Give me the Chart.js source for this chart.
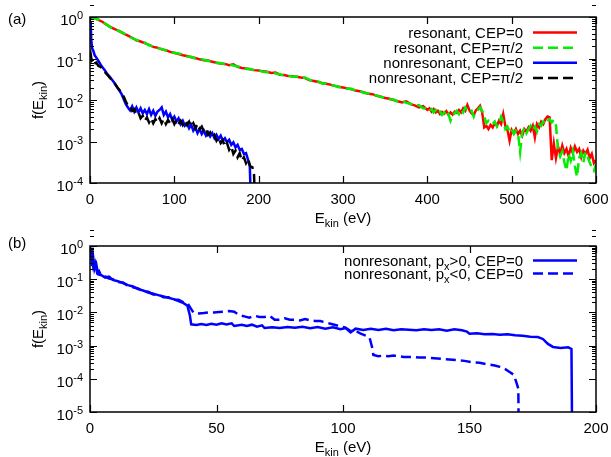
<!DOCTYPE html>
<html>
<head>
<meta charset="utf-8">
<script src="https://cdn.jsdelivr.net/npm/chart.js@4"></script>
<style>
  body { margin: 0; background: #fff; }
  .panel { position: absolute; left: 0; width: 611px; height: 228px; }
  #wrapA { top: 0; }
  #wrapB { top: 229px; }
</style>
</head>
<body>
<div class="panel" id="wrapA"><canvas id="chartA" width="611" height="228"></canvas></div>
<div class="panel" id="wrapB"><canvas id="chartB" width="611" height="228"></canvas></div>
<script>
// values as log10 f(E_kin)

// panel (a), resonant
const resE = [0,5,10,15,20,25,30,35,40,45,50,55,60,65,70,75,80,85,90,95,
  100,105,110,115,120,125,130,135,140,145,150,155,160,165,170,175,180,185,190,195,
  200,205,210,215,220,225,230,235,240,245,250,255,260,265,270,275,280,285,290,295,
  300,305,310,315,320,325,330,335,340,345,350,355,360,365,370,375,380,385,390,395,400,
  402.5,405,407.5,410,412.5,415,417.5,420,422.5,425,427.5,430,432.5,435,437.5,440,442.5,445,447.5,450,
  452.5,455,457.5,460,462.5,465,467.5,470,472.5,475,477.5,480,482.5,485,487.5,490,492.5,495,497.5,500,
  502.5,505,507.5,510,512.5,515,517.5,520,522.5,525,527.5,530,532.5,535,537.5,540,542.5,545,547.5,550,
  552.5,555,557.5,560,562.5,565,567.5,570,572.5,575,577.5,580,582.5,585,587.5,590,592.5,595,597.5,600];
const resCep0 = [-0.01,-0.02,-0.07,-0.12,-0.19,-0.25,-0.30,-0.34,-0.40,-0.45,
  -0.50,-0.56,-0.59,-0.63,-0.67,-0.72,-0.74,-0.78,-0.80,-0.84,
  -0.86,-0.89,-0.92,-0.94,-0.97,-0.99,-1.02,-1.04,-1.05,-1.08,
  -1.10,-1.12,-1.13,-1.16,-1.14,-1.20,-1.23,-1.24,-1.26,-1.28,
  -1.29,-1.31,-1.32,-1.35,-1.34,-1.39,-1.40,-1.42,-1.43,-1.44,
  -1.46,-1.47,-1.52,-1.54,-1.56,-1.59,-1.61,-1.63,-1.66,-1.68,
  -1.70,-1.72,-1.74,-1.77,-1.79,-1.82,-1.85,-1.86,-1.90,-1.92,
  -1.95,-1.97,-2.00,-2.03,-2.06,-2.03,-2.10,-2.13,-2.18,-2.15,-2.24,
  -2.20,-2.28,-2.22,-2.30,-2.26,-2.34,-2.29,-2.33,-2.27,-2.36,
  -2.30,-2.35,-2.28,-2.31,-2.24,-2.30,-2.20,-2.26,-2.12,-2.25,
  -2.32,-2.36,-2.25,-2.20,-2.14,-2.30,-2.66,-2.62,-2.70,-2.60,
  -2.66,-2.55,-2.62,-2.50,-2.58,-2.34,-2.62,-2.72,-2.98,-2.72,
  -2.80,-2.70,-2.82,-2.74,-2.86,-2.70,-2.76,-2.66,-2.74,-2.62,
  -2.90,-2.58,-2.66,-2.52,-2.58,-2.46,-2.40,-2.42,-3.45,-3.05,
  -3.40,-3.12,-3.30,-3.10,-3.28,-3.18,-3.35,-3.15,-3.28,-3.12,
  -3.25,-3.18,-3.38,-3.22,-3.30,-3.20,-3.40,-3.30,-3.52,-3.45];
const resCepPi2 = [0.00,-0.03,-0.06,-0.13,-0.18,-0.26,-0.29,-0.35,-0.39,-0.46,
  -0.51,-0.55,-0.60,-0.62,-0.68,-0.71,-0.75,-0.77,-0.81,-0.83,
  -0.87,-0.88,-0.91,-0.95,-0.96,-1.00,-1.01,-1.03,-1.06,-1.07,
  -1.11,-1.11,-1.14,-1.15,-1.17,-1.19,-1.22,-1.25,-1.25,-1.29,
  -1.28,-1.32,-1.33,-1.34,-1.36,-1.38,-1.41,-1.41,-1.44,-1.43,
  -1.47,-1.46,-1.51,-1.55,-1.55,-1.60,-1.60,-1.64,-1.65,-1.69,
  -1.69,-1.73,-1.73,-1.78,-1.78,-1.83,-1.84,-1.87,-1.89,-1.93,
  -1.94,-1.98,-1.99,-2.04,-2.02,-2.07,-2.09,-2.14,-2.12,-2.20,-2.21,
  -2.26,-2.22,-2.30,-2.24,-2.32,-2.28,-2.36,-2.30,-2.40,-2.34,
  -2.50,-2.36,-2.32,-2.26,-2.34,-2.24,-2.30,-2.18,-2.24,-2.30,
  -2.26,-2.40,-2.28,-2.24,-2.18,-2.26,-2.40,-2.56,-2.50,-2.54,
  -2.58,-2.52,-2.64,-2.56,-2.40,-2.52,-2.70,-2.64,-2.76,-2.70,
  -2.82,-2.74,-2.80,-3.25,-2.78,-2.68,-2.80,-2.70,-2.62,-2.72,
  -2.64,-2.76,-2.58,-2.62,-2.52,-2.58,-2.50,-2.46,-2.54,-2.48,
  -2.60,-3.20,-3.36,-3.24,-3.50,-3.70,-3.30,-3.46,-3.24,-3.60,
  -3.85,-3.40,-3.28,-3.50,-3.26,-3.36,-3.50,-3.62,-3.70,-3.55];

// panel (a), nonresonant
const nonE0 = [0.3,0.8,1.5,2.5,4,5.5,7.5,
  10,12.5,15,17.5,20,22.5,25,27.5,30,32.5,35,37.5,40,42.5,45,47.5,50,52.5,55,57.5,
  60,62.5,65,67.5,70,72.5,75,77.5,80,82.5,85,87.5,90,92.5,95,97.5,100,102.5,105,107.5,
  110,112.5,115,117.5,120,122.5,125,127.5,130,132.5,135,137.5,140,142.5,145,147.5,150,152.5,155,157.5,
  160,162.5,165,167.5,170,172.5,175,177.5,180,182.5,185,187.5,189.5,191.5];
const nonCep0 = [-0.62,-0.11,-0.55,-0.75,-0.82,-0.92,-0.98,
  -1.06,-1.14,-1.22,-1.28,-1.36,-1.42,-1.48,-1.55,-1.62,-1.70,
  -1.78,-1.86,-1.98,-2.10,-2.18,-2.25,-2.15,-2.28,-2.18,-2.30,
  -2.20,-2.32,-2.24,-2.34,-2.22,-2.36,-2.26,-2.38,-2.28,-2.24,
  -2.18,-2.36,-2.28,-2.42,-2.34,-2.48,-2.40,-2.52,-2.44,-2.58,
  -2.50,-2.62,-2.56,-2.68,-2.60,-2.74,-2.66,-2.80,-2.70,-2.82,
  -2.74,-2.86,-2.78,-2.88,-2.80,-2.92,-2.84,-2.94,-2.86,-2.98,
  -2.92,-3.02,-2.96,-3.08,-3.02,-3.14,-3.08,-3.20,-3.18,-3.30,
  -3.28,-3.45,-3.60,-5];
const nonCepE = [0.3,1,2,3.5,5,7.5,
  10,12.5,15,17.5,20,22.5,25,27.5,30,32.5,35,37.5,40,42.5,45,47.5,50,52.5,55,57.5,
  60,62.5,65,67.5,70,72.5,75,77.5,80,82.5,85,87.5,90,92.5,95,97.5,100,102.5,105,107.5,
  110,112.5,115,117.5,120,122.5,125,127.5,130,132.5,135,137.5,140,142.5,145,147.5,150,152.5,155,157.5,
  160,162.5,165,167.5,170,172.5,175,177.5,180,182.5,185,187.5,190,192.5,194.5,196.5];
const nonCepPi2 = [-1.00,-0.92,-1.05,-1.02,-1.12,-1.10,
  -1.18,-1.20,-1.26,-1.32,-1.38,-1.44,-1.50,-1.56,-1.62,-1.70,
  -1.76,-1.84,-1.92,-2.04,-2.14,-2.16,-2.26,-2.22,-2.34,-2.30,
  -2.44,-2.38,-2.50,-2.42,-2.54,-2.44,-2.56,-2.46,-2.54,-2.44,
  -2.56,-2.46,-2.58,-2.48,-2.56,-2.46,-2.58,-2.48,-2.58,-2.50,
  -2.60,-2.50,-2.60,-2.52,-2.64,-2.56,-2.68,-2.58,-2.70,-2.64,
  -2.76,-2.70,-2.84,-2.78,-2.90,-2.84,-2.98,-2.90,-3.04,-2.98,
  -3.12,-3.04,-3.20,-3.12,-3.30,-3.22,-3.38,-3.28,-3.46,-3.38,
  -3.52,-3.42,-3.60,-3.62,-3.80,-5];

// panel (b), nonresonant CEP=0
const posE = [0.3,0.8,1.2,1.8,2.5,3.2,4.5,6,7.5,9,11,13,15,17,19,21,23,25,27,29,
  31,33,35,37,38.5,39.5,40,42,44,46,48,50,52,54,56,57,60,62,64,66,
  68,69,72,75,78,81,84,87,90,93,96,99,101,103,105,108,111,114,117,120,
  123,126,129,132,135,138,141,144,147,149,150,153,156,159,162,165,168,171,174,177,
  179,181,183,186,189,190.3,190.6];
const posPx = [-0.05,-0.60,-0.30,-0.70,-0.55,-0.85,-0.88,-0.95,-0.92,-1.02,
  -1.06,-1.12,-1.18,-1.22,-1.30,-1.34,-1.40,-1.44,-1.48,-1.52,
  -1.56,-1.60,-1.66,-1.72,-1.80,-2.10,-2.36,-2.38,-2.35,-2.38,
  -2.34,-2.37,-2.33,-2.36,-2.33,-2.41,-2.37,-2.41,-2.37,-2.43,
  -2.39,-2.47,-2.45,-2.47,-2.44,-2.46,-2.43,-2.48,-2.44,-2.49,
  -2.45,-2.51,-2.47,-2.60,-2.49,-2.53,-2.49,-2.53,-2.49,-2.54,
  -2.51,-2.52,-2.54,-2.51,-2.53,-2.51,-2.55,-2.51,-2.54,-2.58,
  -2.64,-2.63,-2.66,-2.65,-2.67,-2.66,-2.69,-2.70,-2.73,-2.74,
  -2.80,-2.95,-3.04,-3.07,-3.05,-3.10,-6];
const negE = [0.3,0.8,1.3,2,2.8,3.5,4.5,6,7.5,9,11,13,15,17,19,21,23,25,27,29,
  31,33,35,37,38.5,40,41,43,45,47,49,51,53,55,57,59,61,63,65,67,
  69,71,73,75,77,79,81,83,85,87,89,91,93,95,97,99,101,103,105,107,
  109,110.5,111.5,112,114,116,118,120,122,124,127,130,133,136,139,142,145,148,151,154,
  157,160,162,164,166,167.5,168.5,169.3,169.6];
const negPx = [-0.10,-0.45,-0.65,-0.50,-0.80,-0.75,-0.90,-0.92,-0.98,-1.00,
  -1.08,-1.10,-1.20,-1.24,-1.28,-1.36,-1.38,-1.46,-1.46,-1.54,
  -1.54,-1.62,-1.62,-1.70,-1.72,-1.90,-2.02,-2.03,-2.02,-2.00,
  -2.00,-1.99,-1.98,-1.96,-1.98,-2.08,-2.12,-2.16,-2.10,-2.14,
  -2.14,-2.10,-2.22,-2.22,-2.18,-2.22,-2.22,-2.24,-2.20,-2.24,
  -2.26,-2.26,-2.30,-2.34,-2.38,-2.42,-2.46,-2.56,-2.56,-2.64,
  -2.70,-2.76,-3.05,-3.28,-3.32,-3.30,-3.32,-3.30,-3.32,-3.34,
  -3.34,-3.36,-3.36,-3.38,-3.40,-3.42,-3.44,-3.46,-3.50,-3.52,
  -3.56,-3.60,-3.64,-3.70,-3.80,-3.88,-4.10,-4.30,-7];

// tick labels
const xTicksA = [0, 100, 200, 300, 400, 500, 600];
const xTicksB = [0, 50, 100, 150, 200];
const yExpA = [0, -1, -2, -3, -4];
const yExpB = [0, -1, -2, -3, -4, -5];

const FONT = '"Liberation Sans", Arial, Helvetica, sans-serif';

function pts(xs, logs) {
  return xs.map((x, i) => ({ x, y: Math.pow(10, logs[i]) }));
}

// text with sub/superscripts, drawn piece by piece
function drawRich(ctx, parts, x, y, align) {
  const w = parts.map(p => {
    ctx.font = (p.sub || p.sup ? 11 : 15) + 'px ' + FONT;
    return ctx.measureText(p.t).width;
  });
  const total = w.reduce((a, b) => a + b, 0);
  let cx = align === 'right' ? x - total : align === 'center' ? x - total / 2 : x;
  ctx.textAlign = 'left';
  ctx.textBaseline = 'alphabetic';
  parts.forEach((p, i) => {
    ctx.font = (p.sub || p.sup ? 11 : 15) + 'px ' + FONT;
    ctx.fillText(p.t, cx, y + (p.sub ? 4 : p.sup ? -6 : 0));
    cx += w[i];
  });
}

const frame = {
  id: 'frame',
  afterDraw(chart, args, o) {
    const { ctx, chartArea: a, scales: { x, y } } = chart;
    ctx.save();
    ctx.fillStyle = '#000';
    ctx.strokeStyle = '#000';

    // ticks, inward on all four sides
    ctx.lineWidth = 1.2;
    ctx.beginPath();
    o.xTicks.forEach(v => {
      const px = Math.round(x.getPixelForValue(v)) + 0.5;
      ctx.moveTo(px, a.bottom); ctx.lineTo(px, a.bottom - 7);
      ctx.moveTo(px, a.top); ctx.lineTo(px, a.top + 7);
    });
    o.yExp.forEach(e => {
      for (let m = 1; m < 10; m++) {
        if (m > 1 && e === o.yExp[o.yExp.length - 1]) break;
        const py = Math.round(y.getPixelForValue(m * Math.pow(10, e))) + 0.5;
        const len = m === 1 ? 7 : 4;
        ctx.moveTo(a.left, py); ctx.lineTo(a.left + len, py);
        ctx.moveTo(a.right, py); ctx.lineTo(a.right - len, py);
      }
    });
    ctx.stroke();

    ctx.lineWidth = 1.5;
    ctx.strokeRect(a.left, a.top, a.right - a.left, a.bottom - a.top);

    // tick labels
    ctx.font = '15px ' + FONT;
    ctx.textAlign = 'center';
    ctx.textBaseline = 'alphabetic';
    o.xTicks.forEach(v => ctx.fillText(String(v), x.getPixelForValue(v), 204));
    o.yExp.forEach(e => {
      const py = y.getPixelForValue(Math.pow(10, e));
      drawRich(ctx, [{ t: '10' }, { t: String(e), sup: true }], 83, py + 8, 'right');
    });

    // axis titles
    drawRich(ctx, [{ t: 'E' }, { t: 'kin', sub: true }, { t: ' (eV)' }], (a.left + a.right) / 2, 223, 'center');
    ctx.save();
    ctx.translate(43, (a.top + a.bottom) / 2);
    ctx.rotate(-Math.PI / 2);
    drawRich(ctx, [{ t: 'f(E' }, { t: 'kin', sub: true }, { t: ')' }], 0, 0, 'center');
    ctx.restore();

    drawRich(ctx, [{ t: o.label }], 8, o.labelY, 'left');

    // key
    o.legend.forEach((it, i) => {
      const ry = o.legendY[i];
      ctx.fillStyle = '#000';
      drawRich(ctx, it.parts, 523, ry + 5, 'right');
      ctx.strokeStyle = it.color;
      ctx.lineWidth = 2.5;
      ctx.setLineDash(it.dash || []);
      ctx.beginPath();
      ctx.moveTo(533, ry); ctx.lineTo(577, ry);
      ctx.stroke();
      ctx.setLineDash([]);
    });
    ctx.restore();
  }
};

function line(data, color, dash, order) {
  return {
    data, borderColor: color, borderWidth: 2.5, borderDash: dash || [],
    pointRadius: 0, tension: 0, fill: false, order
  };
}

function makeChart(id, datasets, xMax, yMin, frameOpts) {
  return new Chart(document.getElementById(id).getContext('2d'), {
    type: 'line',
    data: { datasets },
    options: {
      responsive: false,
      animation: false,
      layout: { padding: { left: 0, right: 15, top: 17, bottom: 0 } },
      plugins: { legend: { display: false }, tooltip: { enabled: false }, frame: frameOpts },
      scales: {
        x: {
          type: 'linear', min: 0, max: xMax,
          grid: { display: false, drawTicks: false }, border: { display: false },
          ticks: { display: false },
          afterFit: s => { s.height = 45; }
        },
        y: {
          type: 'logarithmic', min: yMin, max: 1,
          grid: { display: false, drawTicks: false }, border: { display: false },
          ticks: { display: false },
          afterFit: s => { s.width = 90; }
        }
      }
    },
    plugins: [frame]
  });
}

makeChart('chartA', [
  line(pts(resE, resCep0), '#ff0000', null, 4),
  line(pts(resE, resCepPi2), '#00ee00', [10, 5], 3),
  line(pts(nonE0, nonCep0), '#0000ff', null, 2),
  line(pts(nonCepE, nonCepPi2), '#000000', [10, 5], 1)
], 600, 1e-4, {
  xTicks: xTicksA, yExp: yExpA, label: '(a)', labelY: 24,
  legendY: [32.5, 47.7, 62.7, 78],
  legend: [
    { parts: [{ t: 'resonant, CEP=0' }], color: '#ff0000' },
    { parts: [{ t: 'resonant, CEP=\u03c0/2' }], color: '#00ee00', dash: [10, 5] },
    { parts: [{ t: 'nonresonant, CEP=0' }], color: '#0000ff' },
    { parts: [{ t: 'nonresonant, CEP=\u03c0/2' }], color: '#000000', dash: [10, 5] }
  ]
});

makeChart('chartB', [
  line(pts(posE, posPx), '#0000ff', null, 1),
  line(pts(negE, negPx), '#0000ff', [10, 5], 2)
], 200, 1e-5, {
  xTicks: xTicksB, yExp: yExpB, label: '(b)', labelY: 18.5,
  legendY: [31.5, 44.5],
  legend: [
    { parts: [{ t: 'nonresonant, p' }, { t: 'x', sub: true }, { t: '>0, CEP=0' }], color: '#0000ff' },
    { parts: [{ t: 'nonresonant, p' }, { t: 'x', sub: true }, { t: '<0, CEP=0' }], color: '#0000ff', dash: [10, 5] }
  ]
});
</script>
</body>
</html>
